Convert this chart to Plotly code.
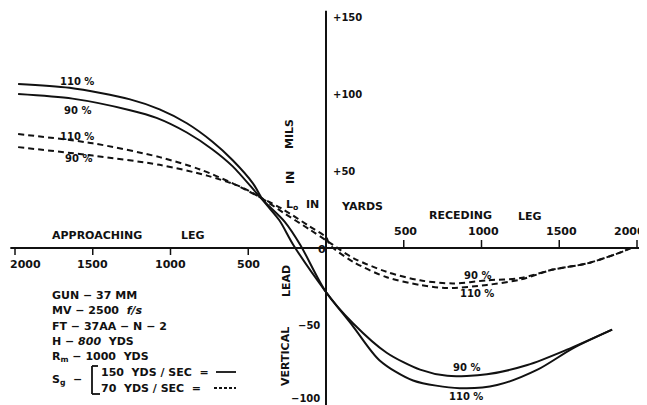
import plotly.graph_objects as go

# page body has an 8px default margin, so the figure is drawn 8px in from the top-left
OFF = 8
W, H = 647 - OFF, 405 - OFF

# ---- data (L0 in yards: negative = approaching leg, positive = receding leg) ----
solid110_x = [-1980, -1650, -1260, -1070, -895, -730, -600, -470, -405, -300, -210, 0,
              175, 345, 560, 860, 1100, 1360, 1590, 1840]
solid110_y = [106.5, 104, 96.5, 90, 81, 69, 57, 42, 31, 18, 2, -28.6,
              -51, -73, -86, -91, -89, -79, -65, -53]

solid90_x = [-1980, -1630, -1260, -1090, -895, -730, -600, -405, -265, -165, 0,
             175, 390, 605, 780, 1035, 1295, 1550, 1840]
solid90_y = [100, 97, 89.5, 84.5, 75, 64, 53, 31, 17, 2, -28.6,
             -49, -68, -79, -83, -82, -76, -66, -53]

dashed110_x = [-1980, -1500, -1070, -810, -600, -425, -275, -105, 0, 25,
               175, 390, 605, 780, 1035, 1250, 1460, 1680, 1890, 1960]
dashed110_y = [74, 68, 59, 51, 42, 33, 25, 14, 7, 2,
               -9, -19, -24, -26, -24, -20.5, -14, -10, -3, 0]

dashed90_x = [-1980, -1500, -1070, -765, -555, -425, -275, -105, 0, 45,
              175, 390, 605, 815, 1035, 1250, 1460, 1680, 1890, 1960]
dashed90_y = [65.5, 60, 54, 47, 40, 33, 23, 12, 5, 2,
              -6.5, -15.5, -21, -23, -21, -19.5, -14, -10, -3, 0]

x_ticks_left = [-2000, -1500, -1000, -500]
x_ticks_right = [500, 1000, 1500, 2000]
y_ticks_pos = [150, 100, 50]
y_ticks_neg = [-50, -100]

legend_lines = ["GUN − 37 MM", "MV − 2500  <i>f/s</i>", "FT − 37AA − N − 2",
                "H − <i>800</i>  YDS", "R<sub>m</sub> − 1000  YDS"]
speed_lines = ["150  YDS / SEC  =", "70  YDS / SEC  ="]

FONT = "DejaVu Sans"
BLACK = "#111111"


def P(px, py):
    return (px - OFF) / W, 1 - (py - OFF) / H


fig = go.Figure()
for xs, ys, dash in [(solid110_x, solid110_y, "solid"), (solid90_x, solid90_y, "solid"),
                     (dashed110_x, dashed110_y, "6px,4px"), (dashed90_x, dashed90_y, "6px,4px")]:
    fig.add_trace(go.Scatter(x=xs, y=ys, mode="lines",
                             line=dict(color=BLACK, width=2, dash=dash, shape="spline", smoothing=0.8),
                             hoverinfo="skip", showlegend=False))

shapes = []
# axes
shapes.append(dict(type="line", xref="x", yref="y", x0=-2030, x1=2064, y0=0, y1=0,
                   line=dict(color=BLACK, width=2)))
shapes.append(dict(type="line", xref="x", yref="y", x0=0, x1=0, y0=-102, y1=154,
                   line=dict(color=BLACK, width=2)))
# tick marks
for t in x_ticks_left:
    shapes.append(dict(type="line", xref="x", yref="y", x0=t, x1=t, ysizemode="pixel",
                       yanchor=0, y0=0, y1=-7, line=dict(color=BLACK, width=1.5)))
for t in x_ticks_right:
    shapes.append(dict(type="line", xref="x", yref="y", x0=t, x1=t, ysizemode="pixel",
                       yanchor=0, y0=0, y1=8, line=dict(color=BLACK, width=1.5)))

annotations = []


def txt(text, px, py, size=11, angle=0, xanchor="center", bold=True):
    x, y = P(px, py)
    annotations.append(dict(text=("<b>%s</b>" % text) if bold else text, x=x, y=y,
                            xref="paper", yref="paper", showarrow=False, textangle=angle,
                            xanchor=xanchor, yanchor="middle",
                            font=dict(family=FONT, size=size, color=BLACK)))


# x tick labels (outermost labels sit slightly inward of their ticks)
for t in x_ticks_left:
    annotations.append(dict(text="<b>%d</b>" % abs(t), x=t, y=0, xref="x", yref="y",
                            showarrow=False, yshift=-16, xshift=(10 if t == -2000 else 0),
                            font=dict(family=FONT, size=11, color=BLACK)))
for t in x_ticks_right:
    annotations.append(dict(text="<b>%d</b>" % abs(t), x=t, y=0, xref="x", yref="y",
                            showarrow=False, yshift=17, xshift=(-8 if t == 2000 else 2),
                            font=dict(family=FONT, size=11, color=BLACK)))
annotations.append(dict(text="<b>0</b>", x=0, y=0, xref="x", yref="y", showarrow=False,
                        xshift=-4, yshift=-1, font=dict(family=FONT, size=11, color=BLACK)))
# y tick labels
for t in y_ticks_pos:
    annotations.append(dict(text="<b>+%d</b>" % t, x=0, y=t, xref="x", yref="y",
                            showarrow=False, xanchor="left", xshift=5,
                            font=dict(family=FONT, size=10, color=BLACK)))
for t in y_ticks_neg:
    annotations.append(dict(text="<b>−%d</b>" % abs(t), x=0, y=t, xref="x", yref="y",
                            showarrow=False, xanchor="right", xshift=-4,
                            yshift=(4 if t == -100 else 0),
                            font=dict(family=FONT, size=10, color=BLACK)))

# axis titles / leg labels
txt("APPROACHING", 97, 235)
txt("LEG", 193, 235)
txt("RECEDING", 460, 215)
txt("LEG", 530, 216)
txt("L<sub>o</sub>  IN", 302, 205)
txt("YARDS", 362, 206)
txt("MILS", 290, 134, angle=-90)
txt("IN", 290, 178, angle=-90)
txt("LEAD", 286, 281, angle=-90)
txt("VERTICAL", 285, 357, angle=-90)

# curve labels
txt("110 %", 77, 81, size=10)
txt("90 %", 77, 110, size=10)
txt("110 %", 77, 136, size=10)
txt("90 %", 78, 159, size=10)
txt("90 %", 477, 275, size=10)
txt("110 %", 477, 293, size=10)
txt("90 %", 466, 367, size=10)
txt("110 %", 466, 396, size=10)

# data block
for i, s in enumerate(legend_lines):
    txt(s, 50, 295 + i * 15.5, size=11, xanchor="left")
txt("S<sub>g</sub>  −", 50, 380, size=11, xanchor="left")
txt(speed_lines[0], 99, 372, size=11, xanchor="left")
txt(speed_lines[1], 99, 388, size=11, xanchor="left")


# bracket and legend line samples (paper coords)
def pl(x0, y0, x1, y1, dash="solid", w=1.8):
    a, b = P(x0, y0)
    c, d = P(x1, y1)
    shapes.append(dict(type="line", xref="paper", yref="paper", x0=a, y0=b, x1=c, y1=d,
                       line=dict(color=BLACK, width=w, dash=dash)))


pl(92, 366, 92, 394)
pl(92, 366, 98, 366)
pl(92, 394, 100, 394)
pl(216, 372, 236, 372)
pl(214, 388, 236, 388, dash="3px,2px")

# axis ranges so that 0 yd sits at page x=326 and 0 mil at page y=248
XS = 0.1555   # px per yard
YS = 1.54     # px per mil
x0_px, y0_px = 326 - OFF, 248 - OFF

fig.update_layout(
    width=W, height=H, margin=dict(l=0, r=0, t=0, b=0),
    paper_bgcolor="white", plot_bgcolor="white",
    xaxis=dict(range=[-x0_px / XS, (W - x0_px) / XS], visible=False, fixedrange=True),
    yaxis=dict(range=[-(H - y0_px) / YS, y0_px / YS], visible=False, fixedrange=True),
    shapes=shapes, annotations=annotations, showlegend=False,
)

fig.write_html("out.html")
